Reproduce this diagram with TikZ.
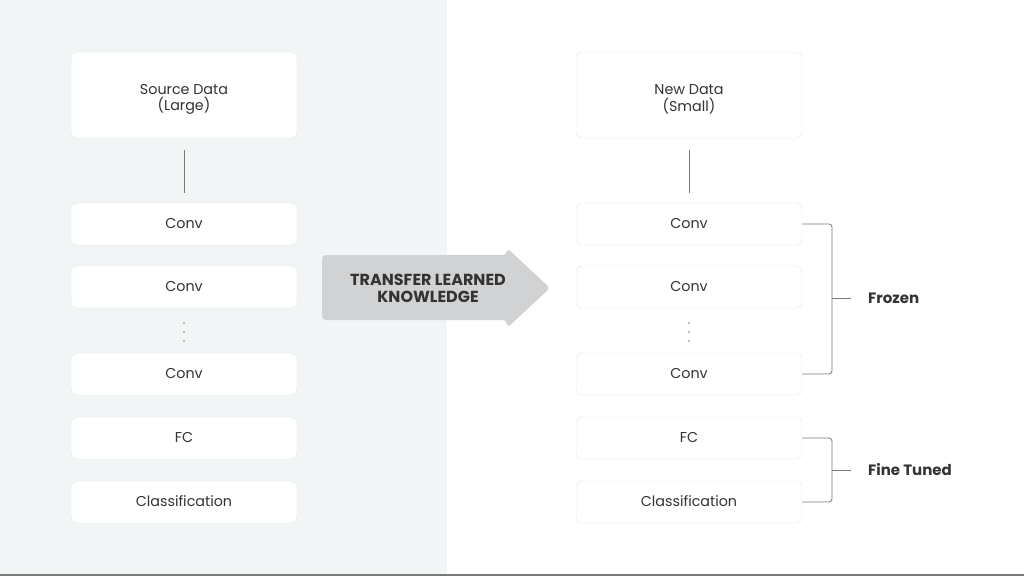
\documentclass[tikz,border=0pt]{standalone}
\usepackage{fontspec}
\setmainfont{Poppins}
\usetikzlibrary{positioning}

\definecolor{leftbg}{HTML}{F2F5F6}
\definecolor{boxline}{HTML}{E2E4E5}
\definecolor{textcol}{HTML}{333333}
\definecolor{linecol}{HTML}{7A7A7A}
\definecolor{arrowcol}{HTML}{D1D2D3}

\begin{document}
\begin{tikzpicture}[x=1pt,y=-1pt,
databox/.style={rectangle, rounded corners=6pt, draw=boxline, fill=white, minimum width=226pt, minimum height=86pt},
layerbox/.style={databox, minimum height=42pt, text=textcol, font=\fontsize{14.3}{16}\selectfont, text height=10pt, text depth=1pt},
boxtext/.style={align=center, inner sep=0pt, text=textcol, font=\fontsize{14.3}{16.5}\selectfont},
bracket/.style={draw=linecol, line width=0.8pt, rounded corners=3pt},
sidelabel/.style={anchor=west, inner sep=0pt, text=textcol, font=\fontsize{15}{18}\selectfont\bfseries}
]
    \useasboundingbox (0,0) rectangle (1024,576);
    \fill[leftbg] (0,0) rectangle (447,576);
    \draw[linecol, line width=2pt] (0,575) -- (1024,575);

    % source side
    \node [databox] (s0) at (184,95) {};
    \node [boxtext] (s0txt) at (184,99.5) {Source Data\\(Large)};
    \node [layerbox] (s1) at (184,224) {Conv};
    \node [layerbox] (s2) at (184,287) {Conv};
    \node [layerbox] (s3) at (184,374) {Conv};
    \node [layerbox] (s4) at (184,438) {FC};
    \node [layerbox] (s5) at (184,502) {Classification};

    % target side
    \node [databox] (t0) at (689,95) {};
    \node [boxtext] (t0txt) at (689,99.5) {New Data\\(Small)};
    \node [layerbox] (t1) at (689,224) {Conv};
    \node [layerbox] (t2) at (689,287) {Conv};
    \node [layerbox] (t3) at (689,374) {Conv};
    \node [layerbox] (t4) at (689,438) {FC};
    \node [layerbox] (t5) at (689,502) {Classification};

    \draw[linecol, line width=0.8pt, shorten <=12pt, shorten >=10pt] (s0) edge (s1);
    \draw[linecol, line width=0.8pt, shorten <=12pt, shorten >=10pt] (t0) edge (t1);

    \foreach \y in {323,332,341} {
        \fill[linecol] (184,\y) circle (0.9);
        \fill[linecol] (689,\y) circle (0.9);
    }

    % transfer arrow
    \fill[arrowcol, rounded corners=4pt] (322,255) -- (507,255) -- (507,248) -- (550,288) -- (507,328) -- (507,320) -- (322,320) -- cycle;
    \node [align=center, inner sep=0pt, text=textcol, font=\fontsize{16}{17}\selectfont\bfseries] (tl) at (428,288) {TRANSFER LEARNED\\KNOWLEDGE};

    % brackets
    \node [sidelabel] (frozen) at (868,298) {Frozen};
    \node [sidelabel] (fine) at (868,470) {Fine Tuned};
    \coordinate (fz) at (832,298);
    \coordinate (ft) at (832,470);
    \draw[bracket] (t1.east) -| (fz) |- (t3.east);
    \draw[bracket] (t4.east) -| (ft) |- (t5.east);
    \draw[bracket, shorten >=17pt] (fz) -- (frozen.west);
    \draw[bracket, shorten >=17pt] (ft) -- (fine.west);
\end{tikzpicture}
\end{document}
